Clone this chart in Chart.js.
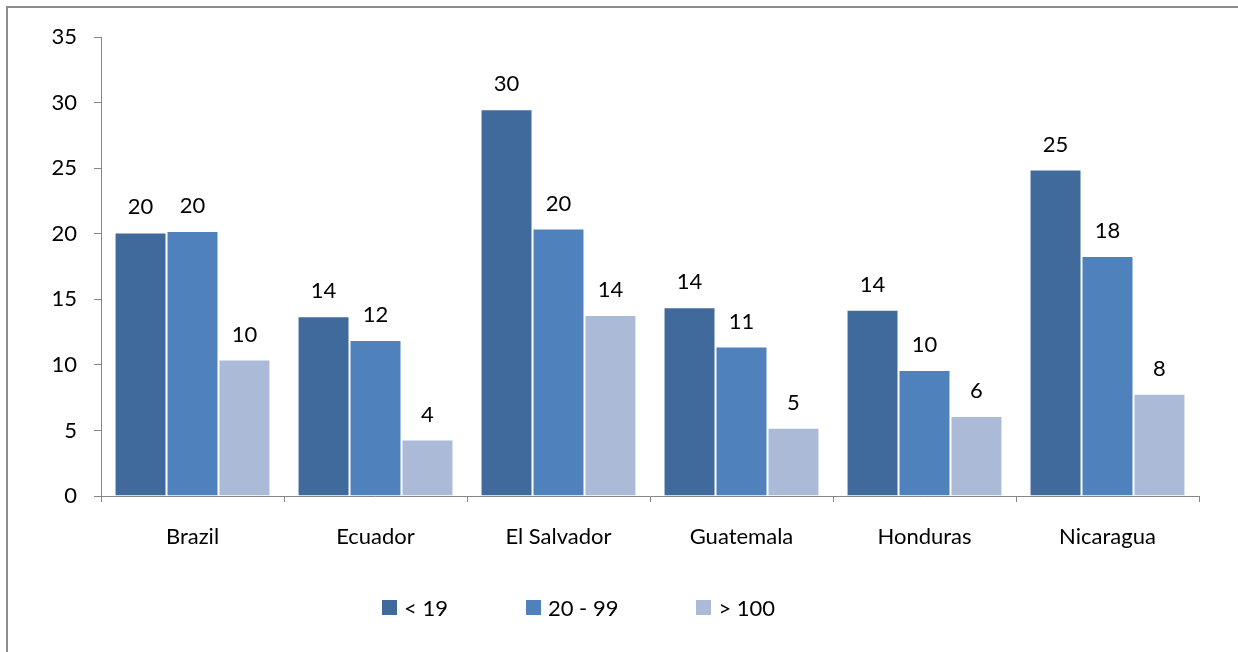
<!DOCTYPE html>
<html>
<head>
<meta charset="utf-8">
<script src="https://cdn.jsdelivr.net/npm/chart.js@4/dist/chart.umd.min.js"></script>
<style>
  html, body { margin: 0; padding: 0; background: #fff; overflow: hidden; }
  #wrap { position: relative; width: 1238px; height: 652px; }
  #frame {
    position: absolute; left: 6px; top: 6px; width: 1300px; height: 700px;
    border: 2px solid #8c8c8c; pointer-events: none; box-sizing: border-box;
  }
  #legend {
    position: absolute; left: 382px; top: 594px; display: flex; gap: 78px;
    font-family: Lato, "Noto Sans", sans-serif; font-size: 22px; color: #000;
  }
  #legend .item { display: flex; align-items: center; }
  #legend .box { width: 15px; height: 15px; margin-right: 7px; }
</style>
</head>
<body>
<div id="wrap">
  <canvas id="chart" width="1238" height="652"></canvas>
  <div id="frame"></div>
  <div id="legend"></div>
</div>
<script>
const countries = ["Brazil", "Ecuador", "El Salvador", "Guatemala", "Honduras", "Nicaragua"];
const seriesNames = ["< 19", "20 - 99", "> 100"];
const under19 = [20.1, 13.7, 29.5, 14.4, 14.2, 24.9];
const from20to99 = [20.2, 11.9, 20.4, 11.4, 9.6, 18.3];
const over100 = [10.4, 4.3, 13.8, 5.2, 6.1, 7.8];
const yTicks = [0, 5, 10, 15, 20, 25, 30, 35];

const colors = ["#406a9b", "#4f81bd", "#aabad7"];
const FONT = "Lato, 'Noto Sans', sans-serif";

// value labels above each bar
const valueLabels = {
  id: "valueLabels",
  afterDatasetsDraw(chart) {
    const ctx = chart.ctx;
    ctx.save();
    ctx.font = "22px " + FONT;
    ctx.fillStyle = "#000";
    ctx.textAlign = "center";
    ctx.textBaseline = "middle";
    chart.data.datasets.forEach((ds, i) => {
      const meta = chart.getDatasetMeta(i);
      meta.data.forEach((bar, j) => {
        ctx.fillText(String(Math.round(ds.data[j])), bar.x, bar.y - 25);
      });
    });
    ctx.restore();
  }
};

const datasets = [under19, from20to99, over100].map((values, i) => ({
  label: seriesNames[i],
  data: values,
  backgroundColor: colors[i],
  borderColor: "rgba(255,255,255,0.55)",
  borderWidth: 1,
  categoryPercentage: 0.852,
  barPercentage: 1.0,
}));

const chart = new Chart(document.getElementById("chart").getContext("2d"), {
  type: "bar",
  data: { labels: countries, datasets },
  options: {
    responsive: false,
    animation: false,
    devicePixelRatio: 1,
    layout: { padding: { top: 37, right: 39, left: 0, bottom: 0 } },
    plugins: {
      legend: { display: false },
      tooltip: { enabled: false },
    },
    scales: {
      x: {
        grid: { offset: true, drawOnChartArea: false, tickLength: 6, color: "#868686" },
        border: { color: "#868686", width: 1 },
        ticks: { color: "#000", font: { family: FONT, size: 22 }, padding: 22 },
        afterFit: (scale) => { scale.height = 156; },
      },
      y: {
        min: 0,
        max: 35,
        afterBuildTicks: (scale) => { scale.ticks = yTicks.map((v) => ({ value: v })); },
        grid: { drawOnChartArea: false, tickLength: 7, color: "#868686" },
        border: { color: "#868686", width: 1 },
        ticks: { color: "#000", font: { family: FONT, size: 22 }, padding: 17 },
        afterFit: (scale) => { scale.width = 101; },
      },
    },
  },
  plugins: [valueLabels],
});

// html legend from the chart's datasets
const legendEl = document.getElementById("legend");
chart.data.datasets.forEach((ds) => {
  const item = document.createElement("div");
  item.className = "item";
  const box = document.createElement("span");
  box.className = "box";
  box.style.background = ds.backgroundColor;
  const text = document.createElement("span");
  text.textContent = ds.label;
  item.appendChild(box);
  item.appendChild(text);
  legendEl.appendChild(item);
});
</script>
</body>
</html>
